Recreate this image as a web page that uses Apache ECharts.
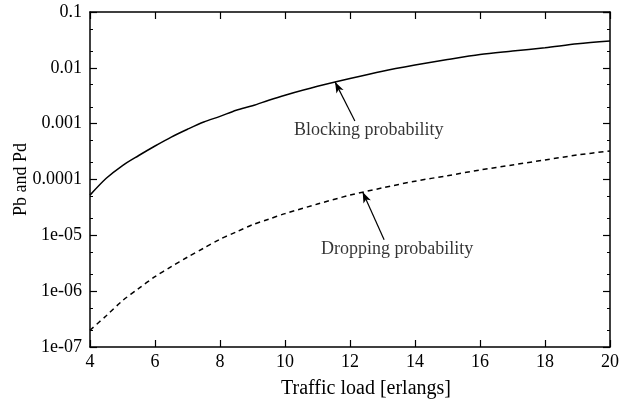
<!DOCTYPE html>
<html>
<head>
<meta charset="utf-8">
<script src="https://cdn.jsdelivr.net/npm/echarts@6/dist/echarts.min.js"></script>
<style>
html,body{margin:0;padding:0;background:#fff;}
#chart{width:627px;height:399px;}
</style>
</head>
<body>
<div id="chart"></div>
<script>
// ---- data ----
const trafficLoad = [4, 4.5, 5, 5.5, 6, 6.5, 7, 7.5, 8, 8.5, 9, 9.5, 10, 11, 12, 13, 14, 15, 16, 17, 18, 19, 20];
const blockingProb = [5.25e-5, 1.05e-4, 1.78e-4, 2.69e-4, 3.98e-4, 5.75e-4, 7.94e-4, 1.07e-3, 1.35e-3, 1.74e-3, 2.09e-3, 2.63e-3, 3.24e-3, 4.68e-3, 6.46e-3, 8.71e-3, 0.0112, 0.0141, 0.0174, 0.0200, 0.0229, 0.0269, 0.0302];
const droppingProb = [2.0e-7, 3.63e-7, 6.76e-7, 1.12e-6, 1.82e-6, 2.75e-6, 4.07e-6, 5.89e-6, 8.51e-6, 1.15e-5, 1.55e-5, 1.95e-5, 2.45e-5, 3.63e-5, 5.25e-5, 7.08e-5, 9.33e-5, 1.17e-4, 1.48e-4, 1.82e-4, 2.24e-4, 2.75e-4, 3.24e-4];
const xTickLabels = ['4', '6', '8', '10', '12', '14', '16', '18', '20'];
const yTickLabels = ['1e-07', '1e-06', '1e-05', '0.0001', '0.001', '0.01', '0.1'];
const yMinorTicks = [2e-7, 5e-7, 2e-6, 5e-6, 2e-5, 5e-5, 2e-4, 5e-4, 2e-3, 5e-3, 0.02, 0.05];
const annotationTexts = ['Blocking probability', 'Dropping probability'];
const annotationTextPos = [[12.58, 7.7e-4], [13.45, 5.7e-6]];
const arrowTails = [[12.15, 1.12e-3], [13.05, 8.3e-6]];
const arrowTips = [[11.54, 5.6e-3], [12.39, 6.0e-5]];

const FONT = 'Liberation Serif';
const chart = echarts.init(document.getElementById('chart'));

const baseX = {
  type: 'value', min: 4, max: 20, interval: 2,
  axisLine: {show: true, onZero: false, lineStyle: {color: '#000', width: 1.5}},
  axisTick: {show: true, inside: true, length: 7, lineStyle: {color: '#000', width: 1.2}},
  splitLine: {show: false}
};
const baseY = {
  type: 'log', logBase: 10, min: 1e-7, max: 0.1, splitNumber: 6,
  axisLine: {show: true, onZero: false, lineStyle: {color: '#000', width: 1.5}},
  axisTick: {show: true, inside: true, length: 7, lineStyle: {color: '#000', width: 1.2}},
  splitLine: {show: false}
};

const option = {
  animation: false,
  backgroundColor: '#fff',
  grid: {left: 90, right: 17, top: 12, bottom: 52, containLabel: false, outerBoundsMode: 'none'},
  xAxis: [
    Object.assign({}, baseX, {
      position: 'bottom',
      axisLabel: {show: true, margin: 6, color: '#000', fontFamily: FONT, fontSize: 18,
        formatter: v => xTickLabels[Math.round((v - 4) / 2)] ?? ''},
      name: 'Traffic load [erlangs]', nameLocation: 'middle', nameGap: 32, nameMoveOverlap: false,
      nameTextStyle: {color: '#000', fontFamily: FONT, fontSize: 20, padding: [0, 0, 0, 32]}
    }),
    Object.assign({}, baseX, {position: 'top', axisLabel: {show: false}})
  ],
  yAxis: [
    Object.assign({}, baseY, {
      position: 'left',
      axisLabel: {show: true, margin: 8, color: '#000', fontFamily: FONT, fontSize: 18,
        formatter: v => yTickLabels[Math.round(Math.log10(v)) + 7] ?? ''},
      name: 'Pb and Pd', nameLocation: 'middle', nameGap: 60, nameRotate: 90, nameMoveOverlap: false,
      nameTextStyle: {color: '#000', fontFamily: FONT, fontSize: 18}
    }),
    Object.assign({}, baseY, {position: 'right', axisLabel: {show: false}}),
    Object.assign({}, baseY, {position: 'left', offset: 0, axisLine: {show: false}, axisLabel: {show: false},
      axisTick: {show: true, inside: true, length: 3, customValues: yMinorTicks, lineStyle: {color: '#000', width: 1}}}),
    Object.assign({}, baseY, {position: 'right', offset: 0, axisLine: {show: false}, axisLabel: {show: false},
      axisTick: {show: true, inside: true, length: 3, customValues: yMinorTicks, lineStyle: {color: '#000', width: 1}}})
  ],
  series: [
    {
      name: 'Blocking probability', type: 'line', xAxisIndex: 0, yAxisIndex: 0,
      data: trafficLoad.map((x, i) => [x, blockingProb[i]]),
      smooth: 0.3, showSymbol: false, symbol: 'none',
      lineStyle: {color: '#000', width: 1.5, type: 'solid'}
    },
    {
      name: 'Dropping probability', type: 'line', xAxisIndex: 0, yAxisIndex: 0,
      data: trafficLoad.map((x, i) => [x, droppingProb[i]]),
      smooth: 0.3, showSymbol: false, symbol: 'none',
      lineStyle: {color: '#000', width: 1.5, type: [5, 4]}
    },
    {
      name: 'annotations', type: 'scatter', xAxisIndex: 0, yAxisIndex: 0,
      symbol: 'circle', symbolSize: 1, itemStyle: {color: 'rgba(0,0,0,0)'},
      silent: true,
      data: annotationTextPos.map((p, i) => ({value: p, name: annotationTexts[i]})),
      label: {show: true, position: 'inside', formatter: p => p.name,
        color: '#000', textBorderWidth: 0, fontFamily: FONT, fontSize: 18},
      markLine: {
        silent: true, animation: false,
        symbol: ['none', 'arrow'], symbolSize: [6, 11],
        lineStyle: {color: '#000', width: 1.2, type: 'solid'},
        label: {show: false},
        data: arrowTails.map((t, i) => [{coord: t}, {coord: arrowTips[i]}])
      }
    }
  ]
};
chart.setOption(option);
</script>
</body>
</html>
